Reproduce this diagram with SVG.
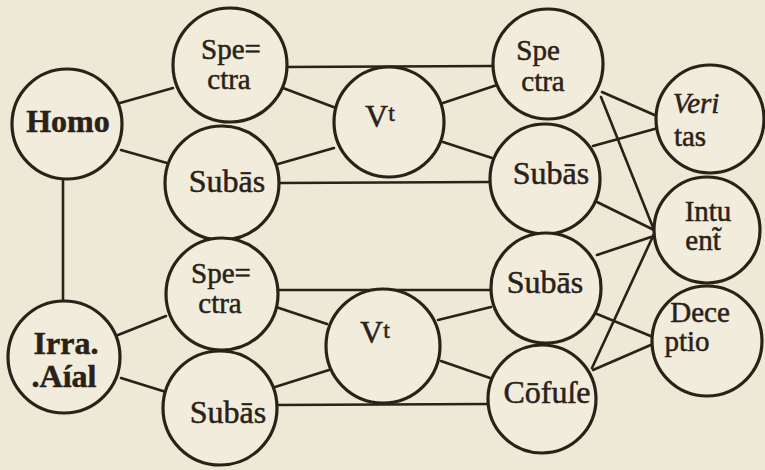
<svg xmlns="http://www.w3.org/2000/svg" width="765" height="470" viewBox="0 0 765 470">
<style>
.bg{fill:#eee8d6}
.n{fill:#f1ecdc;stroke:#2a2218;stroke-width:3.2}
.c{stroke:#2a2218;stroke-width:2.6;fill:none;stroke-linecap:round}
.t{font-family:'Liberation Serif', 'Times New Roman', Times, serif;fill:#2a2218;stroke:#2a2218;stroke-width:0.5;font-size:32px;text-anchor:middle}
.b{font-weight:bold}
.s{font-size:29px}
</style>
<rect class="bg" width="765" height="470"/>
<g id="connectors">
<path class="c" d="M63 179 L63 301"/>
<path class="c" d="M120 103 L173 88"/>
<path class="c" d="M121 150 L167 163"/>
<path class="c" d="M286 67 L493 66"/>
<path class="c" d="M283 88 L336 108"/>
<path class="c" d="M278 164 L334 148"/>
<path class="c" d="M279 183 L490 182"/>
<path class="c" d="M443 103 L497 85"/>
<path class="c" d="M443 142 L492 158"/>
<path class="c" d="M118 335 L166 316"/>
<path class="c" d="M121 378 L166 392"/>
<path class="c" d="M278 290 L491 290"/>
<path class="c" d="M276 307 L327 324"/>
<path class="c" d="M275 387 L329 370"/>
<path class="c" d="M277 405 L488 404"/>
<path class="c" d="M438 320 L491 307"/>
<path class="c" d="M441 361 L490 378"/>
<path class="c" d="M602 92 L659 117"/>
<path class="c" d="M593 146 L658 128"/>
<path class="c" d="M601 97 L654 230"/>
<path class="c" d="M597 202 L654 230"/>
<path class="c" d="M597 255 L654 236"/>
<path class="c" d="M592 368 L654 234"/>
<path class="c" d="M597 314 L653 337"/>
<path class="c" d="M593 370 L653 344"/>
</g>
<g id="homo"><circle class="n" cx="67" cy="124" r="55"/><text class="t b" font-family="Liberation Serif" x="68" y="132">Homo</text></g>
<g id="irra"><circle class="n" cx="64" cy="357" r="56"/><text class="t b" font-family="Liberation Serif" font-size="27" x="66" y="354">Irra.</text><text class="t b" font-family="Liberation Serif" font-size="27" x="64" y="387">.Aíal</text></g>
<g id="spectra1"><circle class="n" cx="230" cy="65" r="57"/><text class="t s" font-family="Liberation Serif" x="231" y="59">Spe=</text><text class="t s" font-family="Liberation Serif" x="229" y="89">ctra</text></g>
<g id="subas1"><circle class="n" cx="222" cy="183" r="57"/><text class="t" font-family="Liberation Serif" x="227" y="192">Subās</text></g>
<g id="vt1"><circle class="n" cx="389" cy="122" r="55"/><text class="t" font-family="Liberation Serif" x="380" y="127">V<tspan font-size="24" dy="-6">t</tspan></text></g>
<g id="spectra2"><circle class="n" cx="548" cy="64" r="55"/><text class="t s" font-family="Liberation Serif" x="538" y="60">Spe</text><text class="t s" font-family="Liberation Serif" x="543" y="91">ctra</text></g>
<g id="subas2"><circle class="n" cx="545" cy="179" r="55"/><text class="t" font-family="Liberation Serif" x="551" y="184">Subās</text></g>
<g id="veritas"><circle class="n" cx="710" cy="119" r="54"/><text class="t s" font-family="Liberation Serif" font-size="30" x="696" y="113" font-style="italic">Veri</text><text class="t s" font-family="Liberation Serif" font-size="30" x="690" y="146">tas</text></g>
<g id="intuent"><circle class="n" cx="707" cy="230" r="53"/><text class="t s" font-family="Liberation Serif" font-size="31" x="708" y="221">Intu</text><text class="t s" font-family="Liberation Serif" font-size="30" x="703" y="250">ent̃</text></g>
<g id="deceptio"><circle class="n" cx="707" cy="341" r="55"/><text class="t s" font-family="Liberation Serif" font-size="30" x="700" y="322">Dece</text><text class="t s" font-family="Liberation Serif" font-size="30" x="687" y="351">ptio</text></g>
<g id="subas3"><circle class="n" cx="546" cy="288" r="55"/><text class="t" font-family="Liberation Serif" x="545" y="293">Subās</text></g>
<g id="cofuse"><circle class="n" cx="542" cy="399" r="54"/><text class="t" font-family="Liberation Serif" x="547" y="403">Cōfuſe</text></g>
<g id="vt2"><circle class="n" cx="383" cy="346" r="57"/><text class="t" font-family="Liberation Serif" x="375" y="343">V<tspan font-size="24" dy="-5">t</tspan></text></g>
<g id="spectra3"><circle class="n" cx="222" cy="294" r="56"/><text class="t s" font-family="Liberation Serif" x="221" y="283">Spe=</text><text class="t s" font-family="Liberation Serif" x="220" y="313">ctra</text></g>
<g id="subas4"><circle class="n" cx="220" cy="408" r="57"/><text class="t" font-family="Liberation Serif" x="228" y="423">Subās</text></g>
</svg>
